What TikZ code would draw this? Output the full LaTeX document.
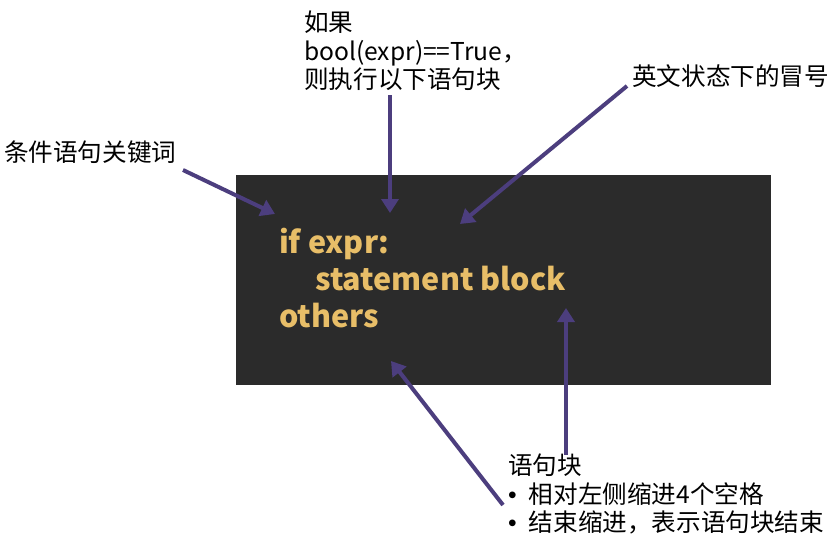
\documentclass[tikz,border=0pt]{standalone}
\usepackage{fontspec}
\setmainfont{Noto Sans CJK SC}
\newfontfamily\cjk{Noto Sans CJK SC}
\newfontfamily\bulletfont{Liberation Sans}
\usetikzlibrary{arrows.meta}
\definecolor{boxbg}{RGB}{43,43,43}
\definecolor{gold}{RGB}{232,190,104}
\definecolor{arrowc}{RGB}{76,62,126}
\newcommand{\bul}{{\bulletfont •}\hspace{12pt}}
\begin{document}
\begin{tikzpicture}[x=1pt,y=-1pt,
  lbl/.style={font=\cjk\fontsize{24.6}{28.5}\selectfont, inner sep=0pt, align=left, text=black},
  code/.style={font=\cjk\bfseries\fontsize{30.5}{36}\selectfont, text=gold, inner sep=0pt, anchor=base west},
  pointer/.style={draw=arrowc, line width=4pt, -{Triangle[length=14pt,width=17pt]}}]
\useasboundingbox (0,0) rectangle (839,539);
\fill[white] (0,0) rectangle (839,539);
\node[fill=boxbg, minimum width=535pt, minimum height=210pt, inner sep=0pt, anchor=north west] (box) at (236,175) {};
\node[code] (l1) at (279,253) {if expr:};
\node[code] (l2) at (315,290) {statement block};
\node[code] (l3) at (279,327) {others};
\node[lbl, anchor=west] (kw) at (4,152) {条件语句关键词};
\node[lbl, anchor=west] (cond) at (304,51) {如果\\bool(expr)==True，\\则执行以下语句块};
\node[lbl, anchor=west] (colon) at (632,76) {英文状态下的冒号};
\node[lbl, anchor=west] (blk) at (508,494) {语句块\\\bul 相对左侧缩进4个空格\\\bul 结束缩进，表示语句块结束};
\coordinate (s1) at (183,170); \coordinate (t1) at (275,214);
\coordinate (s2) at (390,95);  \coordinate (t2) at (390,213);
\coordinate (s3) at (627,86);  \coordinate (t3) at (460,224);
\coordinate (s4) at (566,455); \coordinate (t4) at (566,308);
\coordinate (s5) at (503,505); \coordinate (t5) at (391,361);
\draw[pointer] (s1) -- (t1);
\draw[pointer] (s2) -- (t2);
\draw[pointer] (s3) -- (t3);
\draw[pointer] (s4) -- (t4);
\draw[pointer] (s5) -- (t5);
\end{tikzpicture}
\end{document}
